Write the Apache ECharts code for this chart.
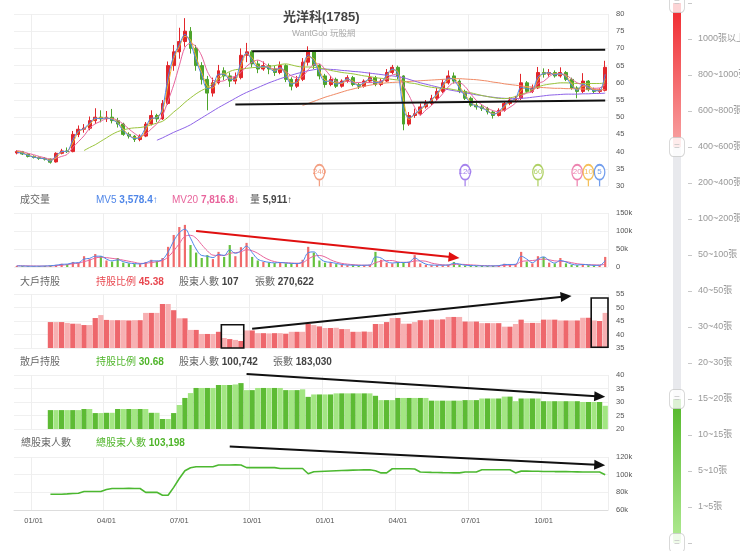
<!DOCTYPE html>
<html><head><meta charset="utf-8">
<script src="https://cdn.jsdelivr.net/npm/echarts/dist/echarts.min.js"></script>
<style>html,body{margin:0;padding:0;background:#fff;overflow:hidden}#c{width:740px;height:551px}</style>
</head><body><div id="c"></div>
<script>
// ---------- DATA ----------
const weeks = ['2019-12-09','2019-12-16','2019-12-23','2019-12-30',
'2020-01-06','2020-01-13','2020-01-20','2020-01-27','2020-02-03','2020-02-10','2020-02-17','2020-02-24','2020-03-02','2020-03-09','2020-03-16','2020-03-23','2020-03-30','2020-04-06','2020-04-13','2020-04-20','2020-04-27','2020-05-04','2020-05-11','2020-05-18','2020-05-25','2020-06-01','2020-06-08','2020-06-15','2020-06-22','2020-06-29','2020-07-06','2020-07-13','2020-07-20','2020-07-27','2020-08-03','2020-08-10','2020-08-17','2020-08-24','2020-08-31','2020-09-07','2020-09-14','2020-09-21','2020-09-28','2020-10-05','2020-10-12','2020-10-19','2020-10-26','2020-11-02','2020-11-09','2020-11-16','2020-11-23','2020-11-30','2020-12-07','2020-12-14','2020-12-21','2020-12-28',
'2021-01-04','2021-01-11','2021-01-18','2021-01-25','2021-02-01','2021-02-08','2021-02-15','2021-02-22','2021-03-01','2021-03-08','2021-03-15','2021-03-22','2021-03-29','2021-04-05','2021-04-12','2021-04-19','2021-04-26','2021-05-03','2021-05-10','2021-05-17','2021-05-24','2021-05-31','2021-06-07','2021-06-14','2021-06-21','2021-06-28','2021-07-05','2021-07-12','2021-07-19','2021-07-26','2021-08-02','2021-08-09','2021-08-16','2021-08-23','2021-08-30','2021-09-06','2021-09-13','2021-09-20','2021-09-27','2021-10-04','2021-10-11','2021-10-18','2021-10-25','2021-11-01','2021-11-08','2021-11-15','2021-11-22','2021-11-29','2021-12-06','2021-12-13'];

const tickWeeks = ['2019-12-30','2020-03-30','2020-06-29','2020-09-28','2020-12-28','2021-03-29','2021-06-28','2021-09-27'];
const tickLabels = ['01/01','04/01','07/01','10/01','01/01','04/01','07/01','10/01'];

// [open, close, low, high]
const ohlc = [
[39.6,40.0,39.2,40.4],[40.0,39.3,39.0,40.2],[39.3,38.6,38.3,39.5],[38.6,38.3,38.0,38.9],[38.3,38.0,37.6,38.6],
[38.0,37.8,37.4,38.4],[37.8,36.9,36.5,38.0],[37.0,39.5,36.8,39.8],[39.5,40.2,39.2,40.8],[40.2,40.0,39.6,41.2],
[40.0,45.0,39.8,46.0],[45.0,46.5,44.2,47.6],[46.5,46.8,45.5,48.0],[46.8,49.0,46.2,50.2],[49.0,50.0,48.0,52.6],
[50.0,49.5,48.5,52.0],[49.5,50.0,48.6,51.8],[50.0,49.0,48.2,52.4],[49.0,48.0,47.0,49.8],[48.0,45.0,44.6,48.4],
[45.0,44.5,43.8,45.6],[44.5,43.5,42.8,44.8],[43.5,44.5,43.0,45.0],[44.5,48.0,44.2,48.6],[48.0,50.5,47.6,52.0],
[50.5,49.5,48.6,51.0],[49.5,54.0,49.2,55.0],[54.0,65.0,53.6,66.2],[65.0,69.0,63.5,71.0],[69.0,72.0,67.0,76.0],
[72.0,75.0,70.5,78.8],[75.0,70.0,68.5,76.2],[70.0,65.0,63.5,71.0],[65.0,61.0,59.5,66.0],[61.0,57.0,52.0,62.0],
[57.0,60.0,56.0,61.5],[60.0,63.5,59.5,65.2],[63.5,62.0,60.8,64.5],[62.0,60.5,58.8,63.0],[60.5,61.5,59.6,63.0],
[61.5,68.0,61.0,70.0],[68.0,69.0,66.0,71.6],[69.0,65.5,64.5,69.5],[65.5,64.0,62.8,66.5],[64.0,65.0,63.5,66.2],
[65.0,64.0,62.5,65.6],[64.0,63.0,62.0,65.0],[63.0,65.0,62.5,66.2],[65.0,61.0,60.2,65.4],[61.0,59.0,57.8,61.6],
[59.0,61.0,58.5,62.0],[61.0,66.0,60.5,67.2],[66.0,69.0,65.0,70.6],[69.0,65.0,64.0,69.5],[65.0,62.0,61.0,65.5],
[62.0,59.5,58.6,62.6],[59.5,61.0,59.0,62.0],[61.0,59.0,58.5,61.5],[59.0,60.5,58.6,61.0],[60.5,61.5,60.0,62.2],
[61.5,59.5,59.0,62.0],[59.5,59.0,58.2,60.0],[59.0,60.5,58.6,61.0],[60.5,61.5,60.0,63.0],[61.5,59.5,59.0,62.0],
[59.5,60.5,59.0,61.2],[60.5,63.0,60.2,64.0],[63.0,64.5,62.5,65.2],[64.5,62.0,61.0,65.0],[62.0,48.0,46.2,62.2],
[48.0,50.5,47.5,51.5],[50.5,51.0,49.8,52.5],[51.0,53.0,50.5,54.0],[53.0,54.0,52.5,55.0],[54.0,55.5,53.5,56.5],
[55.5,57.5,55.0,58.5],[57.5,60.0,57.0,61.0],[60.0,62.0,59.5,63.6],[62.0,60.5,59.8,63.0],[60.5,57.5,57.0,61.0],
[57.5,55.5,55.0,58.0],[55.5,53.5,53.0,56.0],[53.5,53.0,52.2,54.2],[53.0,52.5,51.8,53.6],[52.5,51.5,50.8,53.0],
[51.5,50.5,49.6,52.0],[50.5,52.0,50.2,52.6],[52.0,54.0,51.6,54.6],[54.0,55.0,53.5,55.8],[55.0,55.5,54.5,56.2],
[55.5,60.0,55.0,62.6],[60.0,57.5,57.0,60.5],[57.5,58.5,57.0,59.5],[58.5,63.0,58.2,64.6],[63.0,62.5,61.5,64.2],
[62.5,63.0,61.8,64.0],[63.0,62.0,61.5,63.6],[62.0,63.0,61.5,64.5],[63.0,61.0,60.5,63.4],[61.0,58.5,58.0,61.5],
[58.5,57.5,55.5,59.0],[57.5,60.5,57.0,62.8],[60.5,58.0,57.5,60.8],[58.0,57.5,57.0,58.6],[57.5,57.8,57.0,58.4],
[57.8,64.5,57.5,66.4]];

const ma5 = [39.8,39.5,38.9,38.4,38.1,37.9,37.2,38.8,40.0,40.1,43.5,46.0,46.7,48.3,49.7,49.6,49.8,49.3,48.3,46.0,
44.7,43.8,44.2,47.0,49.7,49.8,52.6,61.7,67.8,71.1,74.1,71.5,66.5,62.2,58.2,59.1,62.5,62.5,61.0,61.2,
66.0,68.7,66.5,64.5,64.7,64.3,63.3,64.4,62.2,59.6,60.4,64.5,68.1,66.2,62.9,60.3,60.6,59.6,60.1,61.2,
60.1,59.2,60.1,61.2,60.1,60.2,62.3,64.0,62.8,52.2,49.8,50.9,52.4,53.7,55.1,56.9,59.3,61.4,60.9,58.4,
56.1,54.1,53.2,52.7,51.8,50.8,51.6,53.4,54.7,55.4,58.7,58.3,58.2,61.7,62.7,62.9,62.3,62.7,61.6,59.3,
57.8,59.6,58.8,57.7,57.7,62.5];
const ma10 = [40.1,39.7,39.0,38.5,38.2,37.9,37.4,38.2,39.9,40.1,42.5,45.8,46.6,47.9,49.5,49.8,49.8,49.5,48.5,46.5,
44.8,44.0,44.0,46.3,49.3,50.0,51.8,59.5,67.0,70.5,73.5,72.5,67.5,63.0,59.0,58.5,61.8,62.8,61.3,61.0,
64.8,68.5,67.3,64.8,64.5,64.5,63.5,64.0,63.0,60.0,60.0,63.5,67.5,67.0,63.5,60.8,60.3,60.0,59.8,61.0,
60.5,59.3,59.8,61.0,60.5,60.0,61.8,63.8,63.3,55.0,49.3,50.8,52.0,53.5,54.8,56.5,58.8,61.0,61.3,59.0,
56.5,54.5,53.3,52.8,52.0,51.0,51.3,53.0,54.5,55.3,57.8,58.8,58.0,60.8,62.8,62.8,62.5,62.5,62.0,59.8,
58.0,59.0,59.3,57.8,57.7,61.2];
const ma20 = [40.3,40.0,39.5,39.1,38.6,38.2,37.8,38.1,38.6,39.2,41.2,42.9,44.6,46.8,48.1,48.8,49.6,49.6,49.1,48.0,
46.6,45.3,44.4,45.1,46.6,48.1,50.5,54.8,59.4,65.0,70.3,71.5,70.5,67.8,63.3,60.8,60.4,60.6,61.5,61.9,
63.0,64.8,66.0,66.6,65.9,64.6,64.0,64.3,63.3,62.0,61.5,61.8,63.8,65.3,65.5,63.9,61.9,60.4,60.0,60.5,
60.1,60.1,60.1,60.1,60.1,60.5,61.1,62.3,62.5,59.1,56.3,52.9,50.6,52.1,53.4,55.0,56.8,58.8,60.0,60.0,
58.9,56.8,54.9,53.6,52.6,51.9,51.6,52.0,52.9,54.1,56.1,57.0,57.4,59.8,60.4,61.8,62.6,62.6,62.3,61.1,
60.0,59.4,58.6,58.4,58.5,59.5];
const ma60 = [null,null,null,null,null,null,null,null,null,null,null,null,
40.3,41.2,42.0,43.0,44.0,45.0,45.8,46.3,46.7,46.9,
47.0,47.3,47.8,48.3,48.8,50.0,51.5,52.8,54.3,55.6,
56.8,57.8,58.6,59.8,61.0,62.3,63.3,63.8,64.0,64.2,
64.4,64.5,64.6,64.8,65.0,65.3,65.5,65.2,64.8,64.6,
64.6,64.5,64.3,64.0,63.6,63.3,63.0,62.8,62.6,62.3,
62.0,61.8,61.5,61.3,61.2,61.0,60.8,60.5,60.0,59.8,
59.4,59.0,58.7,58.5,58.4,58.3,58.0,57.7,57.4,57.1,
56.7,56.3,56.0,55.7,55.5,55.4,55.6,56.0,56.6,57.2,
58.0,58.8,59.3,59.6,59.8,60.0,60.0,59.9,59.8,59.8,
59.8,59.8,59.8,60.0];
const ma120 = [null,null,null,null,null,null,null,null,null,null,null,null,null,null,null,null,null,null,null,null,null,null,null,null,null,
43.3,44.0,44.8,45.6,46.3,47.0,47.8,48.8,49.8,50.8,
51.8,52.8,53.7,54.6,55.5,56.4,57.2,57.9,58.6,59.3,
60.0,60.6,61.2,61.7,62.2,62.7,63.1,63.5,63.8,64.0,
64.0,63.9,63.8,63.6,63.5,63.3,63.2,63.0,62.8,62.6,
62.4,62.2,62.0,61.8,61.5,61.0,60.5,60.0,59.6,59.2,
58.8,58.4,58.0,57.7,57.4,57.1,56.8,56.5,56.3,56.0,
55.8,55.6,55.5,55.4,55.4,55.5,55.6,55.8,56.0,56.2,
56.4,56.5,56.6,56.7,56.7,56.7,56.8,56.8,56.9,56.9,57.0];
const ma240 = [null,null,null,null,null,null,null,null,null,null,null,null,null,null,null,null,null,null,null,null,null,null,null,null,null,
null,null,null,null,null,null,null,null,null,null,null,null,null,null,null,null,null,null,null,null,null,null,null,null,null,null,
53.4,54.0,54.6,55.2,55.8,56.3,56.8,57.3,57.8,58.2,
58.6,59.0,59.3,59.6,59.8,60.0,60.1,60.2,60.3,60.4,
60.5,60.6,60.7,60.8,60.9,61.0,61.1,61.2,61.2,61.1,
61.0,60.9,60.7,60.5,60.2,60.0,59.7,59.5,59.3,59.1,
58.9,58.8,58.7,58.6,58.5,58.4,58.4,58.3,58.3,58.2,
58.2,58.1,58.1,58.0,58.0];

// volume (thousand lots)
const volume = [3,2.5,2,2,2.5,3,4,6,9,8,14,12,30,22,36,30,18,15,25,12,
10,9,8,14,20,16,25,56,89,111,117,61,40,25,33,22,42,28,61,30,
55,67,28,18,14,12,11,13,10,10,9,20,56,40,18,12,14,8,6,5,
5,4,5,6,42,20,12,10,14,12,14,33,10,6,5,5,5,6,14,6,
4,4,3,3,3,3,4,9,6,8,42,15,10,30,28,12,10,25,10,6,
5,8,5,4,5,28];
const mv5 = [3,2.8,2.3,2.1,2.3,2.7,3.6,5,7.5,8,11.5,12,22,24,30,30,22,17,20,15,
11,9.5,8.5,11.5,17,17,21,42,72,95,105,80,50,32,30,26,35,32,48,38,
45,58,40,22,16,13,11.5,12.5,11,10,9.5,15,40,42,25,15,13,10,7,5.5,
5,4.5,4.8,5.5,28,25,15,11,12.5,12.5,13.5,25,16,8,5.5,5,5,5.5,10.5,8,
5,4,3.5,3,3,3,3.6,7,7,7.5,30,22,12,22,28,18,11,18,14,8,
5.5,7,6,4.5,4.8,18];
const mv20 = [3.5,3.3,3,2.8,2.6,2.6,2.8,3.5,5,6.5,9,10.5,15,19,25,27,26,24,22,19,
16,13,10,10.5,12.5,14.5,18,28,45,65,85,88,80,62,45,33,32,32,38,40,
42,48,45,38,28,20,15,12.5,12,11,10.5,12,22,30,32,28,20,14,10,8,
6.5,5.5,5,5,12,16,18,18,14,13,13,17,17,16,11,8,6,5.5,7,7.5,
7,6,5,4,3.5,3.2,3.3,4.5,5.5,6.5,15,17,18,20,22,20,17,16,15,12,
9,7.5,6.5,6,5.5,7.8];

// big holders ratio (%), retail ratio (%), total holders (thousand)
const bigHolderPct = [null,null,null,null,null,null,
44.6,44.6,44.6,44.3,44.0,44.0,43.5,43.5,46.1,47.2,
45.4,45.3,45.3,45.3,45.2,45.3,45.3,48.0,48.0,48.0,
51.3,51.3,49.0,46.0,46.0,41.7,41.7,40.2,40.2,40.2,
41.0,38.7,38.3,38.0,37.6,41.5,41.5,40.5,40.5,40.4,
40.5,40.5,40.3,41.0,41.0,41.0,43.9,43.5,43.0,42.4,
42.4,42.5,42.0,42.0,41.0,41.0,41.1,41.0,43.9,43.9,
44.6,46.1,46.1,44.0,44.0,44.6,45.3,45.3,45.5,45.5,
45.6,46.5,46.5,46.5,44.8,44.8,44.8,44.2,44.2,44.2,
44.2,42.9,42.9,43.9,45.5,44.3,44.3,44.3,45.5,45.5,
45.5,45.2,45.2,45.2,45.2,46.2,46.2,45.2,45.0,48.0];
const retailPct = [null,null,null,null,null,null,
27.0,27.0,27.0,27.0,27.0,27.0,27.4,27.4,25.9,25.9,
26.0,26.0,27.4,27.4,27.4,27.4,27.4,27.4,26.0,26.0,
23.7,23.7,25.9,28.9,31.5,33.3,35.2,35.2,35.2,35.2,
36.3,36.3,36.3,36.5,37.0,34.4,34.4,35.2,35.2,35.2,
35.2,35.2,34.4,34.4,34.4,34.7,31.9,32.8,32.8,32.8,
32.8,33.2,33.2,33.2,33.2,33.2,33.2,33.2,32.3,30.7,
30.7,30.7,31.5,31.5,31.5,31.5,31.5,31.5,30.5,30.5,
30.5,30.5,30.5,30.5,30.7,30.7,30.7,31.3,31.3,31.3,
31.3,32.0,32.0,30.3,31.3,31.3,31.3,31.3,30.3,30.3,
30.3,30.3,30.3,30.3,30.3,30.0,30.0,30.0,30.0,28.6];
const totalHolders = [null,null,null,null,null,null,
77.8,77.8,77.9,78.2,78.6,79.0,81.0,81.0,81.0,81.0,
83.2,84.4,84.4,84.4,84.5,84.4,84.3,80.0,80.0,80.0,
76.7,76.7,85.6,95.6,104.4,107.8,108.9,108.9,108.9,108.9,
111.0,111.0,111.0,111.2,111.0,108.0,108.0,108.0,108.0,108.0,
108.0,107.0,107.0,107.0,107.0,107.0,101.0,103.3,103.6,103.9,
104.2,104.5,104.7,104.9,105.1,105.3,105.4,105.5,104.4,102.0,
102.0,106.7,106.7,106.7,106.7,106.5,103.0,102.8,102.6,102.5,
102.3,102.2,102.0,102.0,103.0,103.0,103.0,105.5,105.5,105.5,
105.5,105.5,105.5,102.0,104.0,104.0,103.8,103.8,103.6,103.6,
103.5,103.5,103.4,103.3,103.2,103.0,103.0,103.0,103.0,100.0];

const maPinLabels = ['240','120','60','20','10','5'];
const maPinWeeks = ['2020-12-21','2021-06-21','2021-09-20','2021-11-08','2021-11-22','2021-12-06'];

const sliderLabels = ['','1000張以上','800~1000張','600~800張','400~600張','200~400張','100~200張','50~100張','40~50張','30~40張','20~30張','15~20張','10~15張','5~10張','1~5張',''];

// hand-drawn annotations (data coordinates)
const annoLines = [
  {g:0, from:['2020-09-28',69.2], to:['2021-12-13',69.6], color:'#111', w:2, arrow:false},
  {g:0, from:['2020-09-07',53.7], to:['2021-12-13',54.85], color:'#111', w:2, arrow:false},
  {g:1, from:['2020-07-20',100], to:['2021-06-14',25], color:'#e01010', w:2, arrow:true},
  {g:2, from:['2020-09-28',42.1], to:['2021-11-01',54.3], color:'#111', w:2, arrow:true},
  {g:3, from:['2020-09-21',40.4], to:['2021-12-13',31.9], color:'#111', w:2, arrow:true},
  {g:4, from:['2020-08-31',132], to:['2021-12-13',110.7], color:'#111', w:2, arrow:true}
];
const annoBoxes = [
  {g:2, from:['2020-08-24',43.6], to:['2020-09-14',35]},
  {g:2, from:['2021-11-29',53.5], to:['2021-12-13',35.3]}
];

// ---------- STYLE ----------
const FONT = '"Liberation Sans","Noto Sans CJK TC",sans-serif';
const C = {up:'#e2262b', down:'#4da42b', ma5:'#4f86e8', ma10:'#f3b02f', ma20:'#e8649c', ma60:'#9bc53d', ma120:'#8e63e8', ma240:'#f08a65'};
const pinColors = [C.ma240, C.ma120, C.ma60, C.ma20, C.ma10, C.ma5];
const grids = [
  {left:14, width:594, top:14, height:172},
  {left:14, width:594, top:213, height:54},
  {left:14, width:594, top:294, height:54},
  {left:14, width:594, top:375, height:54},
  {left:14, width:594, top:457, height:53},
  {left:673, width:8, top:3, height:540}
].map(g => Object.assign({outerBoundsMode:'none', containLabel:false, show:false}, g));

const split = {show:true, lineStyle:{color:'#f0f0f0', width:1}};
function xAx(i, showLabel){
  return {type:'category', gridIndex:i, data:weeks, boundaryGap:true,
    axisLine:{show:showLabel, lineStyle:{color:'#ddd'}}, axisTick:{show:false},
    axisLabel:{show:showLabel, interval:(idx,v)=>tickWeeks.indexOf(v)>=0, formatter:v=>tickLabels[tickWeeks.indexOf(v)],
      color:'#555', fontSize:7.5, margin:7, fontFamily:FONT},
    splitLine:{show:true, interval:(idx,v)=>tickWeeks.indexOf(v)>=0, lineStyle:{color:'#eeeeee'}}};
}
function yAx(i, min, max, interval, fmt){
  return {type:'value', gridIndex:i, min, max, interval, position:'right', scale:false,
    axisLine:{show:false}, axisTick:{show:false}, splitLine:split,
    axisLabel:{color:'#555', fontSize:7.5, margin:8, fontFamily:FONT, formatter:fmt}};
}
const kFmt = v => v===0 ? '0' : v + 'k';

function head(text, left, top, rich){
  return {text, left, top, padding:0, textStyle:{fontSize:10, color:'#666', fontWeight:'normal', fontFamily:FONT, rich:rich}};
}
function rich2(ca, cb){
  return {a:{color:ca, fontSize:10, fontFamily:FONT}, b:{color:cb, fontSize:10, fontWeight:'bold', fontFamily:FONT}};
}

const pinPath = 'path://M0.5,8A7.5,7.5,0,1,1,15.5,8A7.5,7.5,0,1,1,0.5,8ZM8,15.5L8,22';

const option = {
  animation:false,
  backgroundColor:'#fff',
  textStyle:{fontFamily:FONT},
  title:[
    {text:'光洋科(1785)', left:283, top:11, padding:0, textStyle:{fontSize:13, fontWeight:'bold', color:'#444', fontFamily:FONT}},
    {text:'WantGoo 玩股網', left:292, top:29, padding:0, textStyle:{fontSize:8.5, fontWeight:'normal', color:'#aaa', fontFamily:FONT}},
    head('成交量', 20, 195),
    head('{a|MV5 }{b|3,578.4↑}', 96, 195, rich2(C.ma5, C.ma5)),
    head('{a|MV20 }{b|7,816.8↓}', 172, 195, rich2(C.ma20, C.ma20)),
    head('{a|量 }{b|5,911↑}', 250, 195, rich2('#555', '#444')),
    head('大戶持股', 20, 277),
    head('{a|持股比例 }{b|45.38}', 96, 277, rich2('#e8474f', '#e8474f')),
    head('{a|股東人數 }{b|107}', 179, 277, rich2('#666', '#444')),
    head('{a|張數 }{b|270,622}', 255, 277, rich2('#666', '#444')),
    head('散戶持股', 20, 357),
    head('{a|持股比例 }{b|30.68}', 96, 357, rich2('#4fb52a', '#4fb52a')),
    head('{a|股東人數 }{b|100,742}', 179, 357, rich2('#666', '#444')),
    head('{a|張數 }{b|183,030}', 273, 357, rich2('#666', '#444')),
    head('總股東人數', 21, 438),
    head('{a|總股東人數 }{b|103,198}', 96, 438, rich2('#4fb52a', '#4fb52a'))
  ],
  grid: grids,
  xAxis:[xAx(0,false), xAx(1,false), xAx(2,false), xAx(3,false), xAx(4,true),
    {type:'category', gridIndex:5, data:['s'], show:false}],
  yAxis:[
    yAx(0, 30, 80, 5),
    yAx(1, 0, 150, 50, kFmt),
    yAx(2, 35, 55, 5),
    yAx(3, 20, 40, 5),
    yAx(4, 60, 120, 20, kFmt),
    {type:'value', gridIndex:5, min:0, max:15, interval:1, inverse:true, position:'right', offset:7,
      axisLine:{show:false}, axisTick:{show:true, length:4, lineStyle:{color:'#c8c8c8'}}, splitLine:{show:false},
      axisLabel:{margin:10, color:'#999', fontSize:9, fontFamily:FONT, formatter:v=>sliderLabels[v]||''}}
  ],
  series:[
    {type:'candlestick', xAxisIndex:0, yAxisIndex:0, data:ohlc, barWidth:3.4,
      itemStyle:{color:C.up, color0:C.down, borderColor:C.up, borderColor0:C.down, borderWidth:1}},
    ...[['ma240',ma240],['ma120',ma120],['ma60',ma60],['ma20',ma20],['ma10',ma10],['ma5',ma5]].map(([k,d]) => ({
      type:'line', xAxisIndex:0, yAxisIndex:0, data:d, showSymbol:false, symbol:'none', smooth:0.3,
      lineStyle:{color:C[k], width:1}, z:3})),
    {type:'scatter', xAxisIndex:0, yAxisIndex:0, z:10, symbol:pinPath, symbolSize:[15,21.5], symbolKeepAspect:true,
      data: maPinWeeks.map((w,k)=>({value:[w, 33.05], itemStyle:{color:'#fff', borderColor:pinColors[k], borderWidth:1.5},
        label:{show:true, formatter:maPinLabels[k], color:pinColors[k], fontSize:8, position:'inside', offset:[0,-3.25], fontFamily:FONT}}))},
    {type:'bar', xAxisIndex:1, yAxisIndex:1, data:volume, barWidth:2.2,
      itemStyle:{color:p => ohlc[p.dataIndex][1] >= ohlc[p.dataIndex][0] ? '#f06a6a' : '#66c23e'}},
    {type:'line', xAxisIndex:1, yAxisIndex:1, data:mv20, showSymbol:false, symbol:'none', smooth:0.4, lineStyle:{color:C.ma20, width:1}},
    {type:'line', xAxisIndex:1, yAxisIndex:1, data:mv5, showSymbol:false, symbol:'none', smooth:0.4, lineStyle:{color:C.ma5, width:1}},
    {type:'bar', xAxisIndex:2, yAxisIndex:2, data:bigHolderPct, barCategoryGap:'6%',
      itemStyle:{color:p => p.dataIndex % 2 ? '#f7b0b2' : '#ee676c'}},
    {type:'bar', xAxisIndex:3, yAxisIndex:3, data:retailPct, barCategoryGap:'6%',
      itemStyle:{color:p => p.dataIndex % 2 ? '#a3e683' : '#5dbb34'}},
    {type:'line', xAxisIndex:4, yAxisIndex:4, data:totalHolders, showSymbol:false, symbol:'none',
      lineStyle:{color:'#4cb830', width:1.6}},
    // right-hand range slider
    {type:'bar', xAxisIndex:5, yAxisIndex:5, data:[15], barWidth:'100%', barGap:'-100%', itemStyle:{color:'#e8e9ed'}, silent:true},
    {type:'bar', xAxisIndex:5, yAxisIndex:5, data:[4], barWidth:'100%', barGap:'-100%', silent:true,
      itemStyle:{color:{type:'linear', x:0, y:0, x2:0, y2:1, colorStops:[{offset:0,color:'#f0262c'},{offset:1,color:'#f8a3a3'}]}}},
    {type:'bar', xAxisIndex:5, yAxisIndex:5, stack:'g', data:[11], barWidth:'100%', barGap:'-100%', silent:true, itemStyle:{color:'rgba(0,0,0,0)'}},
    {type:'bar', xAxisIndex:5, yAxisIndex:5, stack:'g', data:[4], barWidth:'100%', barGap:'-100%', silent:true,
      itemStyle:{color:{type:'linear', x:0, y:0, x2:0, y2:1, colorStops:[{offset:0,color:'#52b728'},{offset:1,color:'#b2eb94'}]}}},
    {type:'scatter', xAxisIndex:5, yAxisIndex:5, z:10, symbol:'roundRect', symbolSize:[15,19],
      data:[0,4,11,15].map(v=>['s',v]),
      itemStyle:{color:'#fff', borderColor:'#c9c9c9', borderWidth:1},
      label:{show:true, formatter:'=', color:'#c6c6c6', fontSize:10, position:'inside'}}
  ]
};

const chart = echarts.init(document.getElementById('c'), null, {renderer:'canvas'});
chart.setOption(option);

// annotations converted through the library's scales
function px(g, w, v){ return chart.convertToPixel({gridIndex:g}, [w, v]); }
const gr = [];
annoLines.forEach(a => {
  const p1 = px(a.g, a.from[0], a.from[1]), p2 = px(a.g, a.to[0], a.to[1]);
  let x2 = p2[0], y2 = p2[1];
  if (a.arrow) {
    const dx = p2[0]-p1[0], dy = p2[1]-p1[1], L = Math.hypot(dx,dy), ux = dx/L, uy = dy/L;
    const bx = p2[0]-ux*11, by = p2[1]-uy*11;
    gr.push({type:'polygon', z:100, shape:{points:[[p2[0],p2[1]],[bx-uy*5,by+ux*5],[bx+uy*5,by-ux*5]]}, style:{fill:a.color}});
    x2 = bx + ux*2; y2 = by + uy*2;
  }
  gr.push({type:'line', z:100, shape:{x1:p1[0], y1:p1[1], x2, y2}, style:{stroke:a.color, lineWidth:a.w}});
});
annoBoxes.forEach(b => {
  const p1 = px(b.g, b.from[0], b.from[1]), p2 = px(b.g, b.to[0], b.to[1]);
  const half = (px(b.g, weeks[1], 0)[0] - px(b.g, weeks[0], 0)[0]) / 2;
  gr.push({type:'rect', z:100, shape:{x:p1[0]-half, y:p1[1], width:p2[0]-p1[0]+2*half, height:p2[1]-p1[1]},
    style:{fill:'none', stroke:'#111', lineWidth:1.6}});
});
chart.setOption({graphic: gr});
</script>
</body></html>
